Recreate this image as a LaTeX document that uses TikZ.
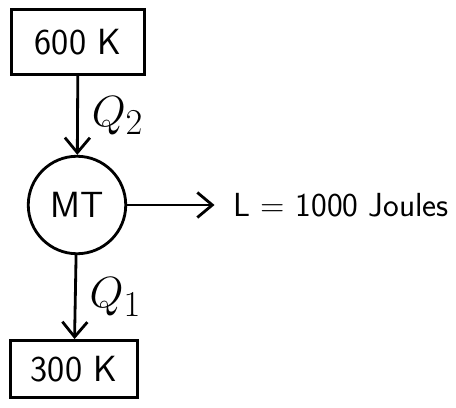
\documentclass[tikz,border=0pt]{standalone}
\usetikzlibrary{arrows.meta}
\begin{document}
\begin{tikzpicture}[x=0.02cm,y=-0.02cm,line width=1.6pt,
    >={Straight Barb[length=3mm,width=5mm]},
    every node/.style={font=\sffamily\huge},
    reservoir/.style={draw,rectangle,inner sep=0pt}]
          \useasboundingbox (0,0) rectangle (456,408);
          \node[reservoir,minimum width=2.66cm,minimum height=1.3cm] (hot) at (78,42) {600 K};
          \node[circle,draw,minimum size=1.95cm,inner sep=0pt] (mt) at (77,205) {MT};
          \node[reservoir,minimum width=2.54cm,minimum height=1.14cm] (cold) at (74,369) {300 K};
          \node[anchor=west,font=\sffamily\fontsize{19}{22}\selectfont,inner sep=0pt] (work) at (232,205) {L = 1000 Joules};

          \draw[->] (hot) -- node[right=4pt,font=\Huge] {$Q_2$} (mt);
          \draw[->] (mt) -- node[right=4pt,font=\Huge] {$Q_1$} (cold);
          \draw[->] (mt) -- ([xshift=-0.35cm]work.west);
        \end{tikzpicture}
\end{document}
